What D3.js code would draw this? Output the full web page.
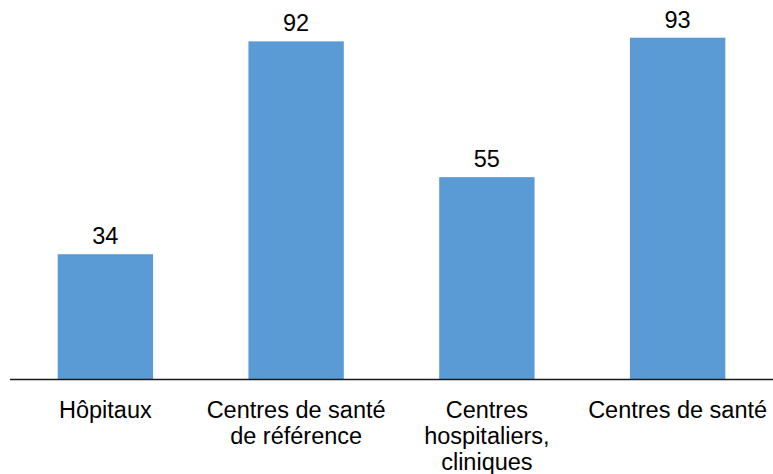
<!DOCTYPE html>
<html>
<head>
<meta charset="utf-8">
<script src="https://cdn.jsdelivr.net/npm/d3@7"></script>
<style>
  body { margin: 0; background: #fff; }
  text { font-family: "Liberation Sans", Arial, sans-serif; fill: #000; }
</style>
</head>
<body>
<div id="chart"></div>
<script>
// données
const categories = [
  ["Hôpitaux"],
  ["Centres de santé", "de référence"],
  ["Centres", "hospitaliers,", "cliniques"],
  ["Centres de santé"]
];
const values = [34, 92, 55, 93];

const width = 773, height = 474;
const svg = d3.select("#chart").append("svg")
  .attr("width", width).attr("height", height);

const x = d3.scaleBand()
  .domain(d3.range(values.length))
  .range([10, 773])
  .paddingInner(0.5)
  .paddingOuter(0.25);

const y = d3.scaleLinear().domain([0, 100]).range([379, 12]);

// barres
svg.selectAll(".bar")
  .data(values)
  .join("rect")
  .attr("class", "bar")
  .attr("x", (d, i) => x(i))
  .attr("y", d => y(d))
  .attr("width", x.bandwidth())
  .attr("height", d => y(0) - y(d))
  .attr("fill", "#5B9BD5");

// étiquettes de valeur
svg.selectAll(".val")
  .data(values)
  .join("text")
  .attr("class", "val")
  .attr("x", (d, i) => x(i) + x.bandwidth() / 2)
  .attr("y", d => y(d) - 10)
  .attr("text-anchor", "middle")
  .style("font-size", "23.5px")
  .text(d => d);

// axe horizontal
svg.append("line")
  .attr("x1", 10).attr("x2", 773)
  .attr("y1", y(0) + 0.5).attr("y2", y(0) + 0.5)
  .attr("stroke", "#1a1a1a").attr("stroke-width", 1.3);

// catégories
const cat = svg.selectAll(".cat")
  .data(categories)
  .join("text")
  .attr("class", "cat")
  .attr("text-anchor", "middle")
  .style("font-size", "23.5px")
  .attr("transform", (d, i) => `translate(${x(i) + x.bandwidth() / 2},418)`);

cat.selectAll("tspan")
  .data(d => d)
  .join("tspan")
  .attr("x", 0)
  .attr("y", (d, j) => j * 26)
  .text(d => d);
</script>
</body>
</html>
